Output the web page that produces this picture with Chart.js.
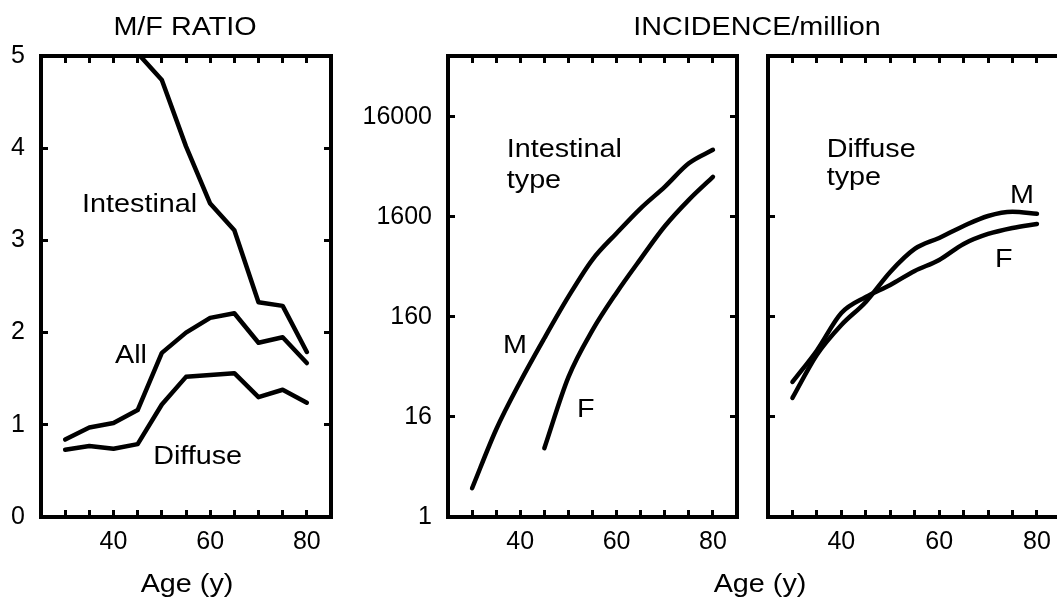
<!DOCTYPE html>
<html>
<head>
<meta charset="utf-8">
<title>Gastric cancer by age</title>
<script src="https://cdn.jsdelivr.net/npm/chart.js@4.4.1/dist/chart.umd.min.js"></script>
<style>
  html, body { margin: 0; padding: 0; background: #fff; }
  #wrap { position: relative; width: 1057px; height: 600px; }
  #wrap canvas { position: absolute; left: 0; top: 0; }
</style>
</head>
<body>
<div id="wrap">
  <canvas id="ratioChart" width="1057" height="600"></canvas>
  <canvas id="intestinalChart" width="1057" height="600"></canvas>
  <canvas id="diffuseChart" width="1057" height="600"></canvas>
</div>
<script>
// ages (x) shared by every panel
const ages = [30, 35, 40, 45, 50, 55, 60, 65, 70, 75, 80];

// M/F ratio panel
const ratioIntestinal = [null, null, null, 5.03, 4.74, 4.02, 3.40, 3.11, 2.33, 2.29, 1.79];
const ratioAll = [0.84, 0.97, 1.02, 1.16, 1.78, 2.00, 2.16, 2.21, 1.89, 1.95, 1.67];
const ratioDiffuse = [0.73, 0.77, 0.74, 0.79, 1.22, 1.52, 1.54, 1.56, 1.30, 1.38, 1.24];

// incidence per million, intestinal type
const intestinalM = [3.1, 12, 36, 98, 255, 600, 1100, 1950, 3200, 5500, 7500];
const intestinalF = [null, null, null, 7.8, 40, 118, 280, 610, 1290, 2370, 4020];

// incidence per million, diffuse type
const diffuseM = [24.8, 67, 133, 226, 451, 766, 986, 1300, 1635, 1800, 1720];
const diffuseF = [35.8, 74, 175, 253, 334, 461, 594, 859, 1081, 1241, 1361];

// ticks
const ageTicks = [30, 35, 40, 45, 50, 55, 60, 65, 70, 75, 80];
const ageTickLabels = ['', '', '40', '', '', '', '60', '', '', '', '80'];
const ratioTicks = [0, 1, 2, 3, 4, 5];
const ratioTickLabels = ['0', '1', '2', '3', '4', '5'];
const incidenceTicks = [1.6, 16, 160, 1600, 16000];
const incidenceTickLabels = ['1', '16', '160', '1600', '16000'];
const diffuseSideTicks = [16, 160, 1600];

Chart.defaults.font.family = '"Liberation Sans", Arial, sans-serif';
Chart.defaults.font.size = 25;
Chart.defaults.color = '#000';

// draws the free text of the figure (titles, curve names)
const figureText = {
    id: 'figureText',
    afterDraw(chart, args, opts) {
        const ctx = chart.ctx;
        ctx.save();
        ctx.fillStyle = '#000';
        ctx.font = '25px "Liberation Sans", Arial, sans-serif';
        ctx.textBaseline = 'alphabetic';
        (opts.items || []).forEach(item => {
            let px = item.x, py = item.y;
            if (item.inData) {
                px = chart.scales.x.getPixelForValue(item.x);
                py = chart.scales.y.getPixelForValue(item.y);
            }
            ctx.save();
            ctx.translate(px, py);
            ctx.scale(1.15, 1); // the printed lettering is a little wide
            ctx.textAlign = item.align || 'left';
            ctx.fillText(item.text, 0, 0);
            ctx.restore();
        });
        ctx.restore();
    }
};

function series(values, smooth) {
    return {
        data: ages.map((a, i) => ({ x: a, y: values[i] })),
        borderColor: '#000',
        borderWidth: 4.5,
        pointRadius: 0,
        fill: false,
        tension: smooth ? 0.4 : 0,
        cubicInterpolationMode: smooth ? 'monotone' : 'default',
        borderCapStyle: 'round',
        borderJoinStyle: 'round'
    };
}

function fixSize(w, h) {
    return function(s) {
        if (w !== null) s.width = w;
        if (h !== null) s.height = h;
        s.paddingLeft = 0; s.paddingRight = 0; s.paddingTop = 0; s.paddingBottom = 0;
    };
}

const tickGrid = { drawOnChartArea: false, drawTicks: true, tickLength: -7, lineWidth: 3, color: '#000' };

function ageAxis(position, min, max, withLabels, showBorder) {
    return {
        type: 'linear',
        axis: 'x',
        position: position,
        min: min,
        max: max,
        afterBuildTicks: s => { s.ticks = ageTicks.map(v => ({ value: v })); },
        ticks: {
            autoSkip: false,
            maxRotation: 0,
            padding: 17,
            callback: (v, i) => withLabels ? ageTickLabels[i] : ''
        },
        grid: tickGrid,
        border: { display: showBorder !== false, width: 4, color: '#000' },
        afterFit: fixSize(null, position === 'bottom' ? 40 : 0)
    };
}

function valueAxis(position, type, min, max, tickValues, tickLabels, width, showBorder) {
    return {
        type: type,
        axis: 'y',
        position: position,
        min: min,
        max: max,
        afterBuildTicks: s => { s.ticks = tickValues.map(v => ({ value: v })); },
        ticks: {
            autoSkip: false,
            padding: 23,
            callback: (v, i) => tickLabels ? tickLabels[i] : ''
        },
        grid: tickGrid,
        border: { display: showBorder !== false, width: 4, color: '#000' },
        afterFit: fixSize(position === 'left' ? width : 0, null)
    };
}

function makePanel(id, area, yWidth, datasets, xMax, yScale, y2Scale, items) {
    return new Chart(document.getElementById(id), {
        type: 'line',
        data: { datasets: datasets },
        options: {
            responsive: false,
            animation: false,
            layout: {
                padding: {
                    left: area.left - yWidth,
                    right: 1057 - area.right,
                    top: area.top,
                    bottom: 600 - area.bottom - 40
                }
            },
            scales: {
                x: ageAxis('bottom', 25, xMax, true, true),
                x2: ageAxis('top', 25, xMax, false, true),
                y: yScale,
                y2: y2Scale
            },
            plugins: {
                legend: { display: false },
                tooltip: { enabled: false },
                figureText: { items: items }
            }
        },
        plugins: [figureText]
    });
}

document.addEventListener('DOMContentLoaded', function() {
    makePanel('ratioChart', { left: 41, right: 331, top: 56, bottom: 517 }, 41,
        [series(ratioIntestinal, false), series(ratioAll, false), series(ratioDiffuse, false)],
        85,
        valueAxis('left', 'linear', 0, 5, ratioTicks, ratioTickLabels, 41),
        valueAxis('right', 'linear', 0, 5, ratioTicks, null, 0),
        [
            { text: 'M/F RATIO', x: 185, y: 35, align: 'center' },
            { text: 'Age (y)', x: 187, y: 592, align: 'center' },
            { text: 'Intestinal', x: 33.5, y: 3.31, inData: true },
            { text: 'All', x: 40.3, y: 1.67, inData: true },
            { text: 'Diffuse', x: 48.2, y: 0.57, inData: true }
        ]);

    makePanel('intestinalChart', { left: 448, right: 737, top: 56, bottom: 517 }, 100,
        [series(intestinalM, true), series(intestinalF, true)],
        85,
        valueAxis('left', 'logarithmic', 1.6, 65000, incidenceTicks, incidenceTickLabels, 100),
        valueAxis('right', 'logarithmic', 1.6, 65000, incidenceTicks, null, 0),
        [
            { text: 'INCIDENCE/million', x: 757, y: 35, align: 'center' },
            { text: 'Age (y)', x: 760, y: 592, align: 'center' },
            { text: 'Intestinal', x: 37.2, y: 6370, inData: true },
            { text: 'type', x: 37.2, y: 3120, inData: true },
            { text: 'M', x: 36.4, y: 70, inData: true },
            { text: 'F', x: 51.8, y: 16, inData: true }
        ]);

    makePanel('diffuseChart', { left: 768, right: 1057, top: 56, bottom: 517 }, 20,
        [series(diffuseM, true), series(diffuseF, true)],
        84.1,
        valueAxis('left', 'logarithmic', 1.6, 65000, diffuseSideTicks, null, 20),
        valueAxis('right', 'logarithmic', 1.6, 65000, [], null, 0, false),
        [
            { text: 'Diffuse', x: 37.0, y: 6370, inData: true },
            { text: 'type', x: 37.0, y: 3340, inData: true },
            { text: 'M', x: 74.5, y: 2210, inData: true },
            { text: 'F', x: 71.4, y: 506, inData: true }
        ]);
});
</script>
</body>
</html>
